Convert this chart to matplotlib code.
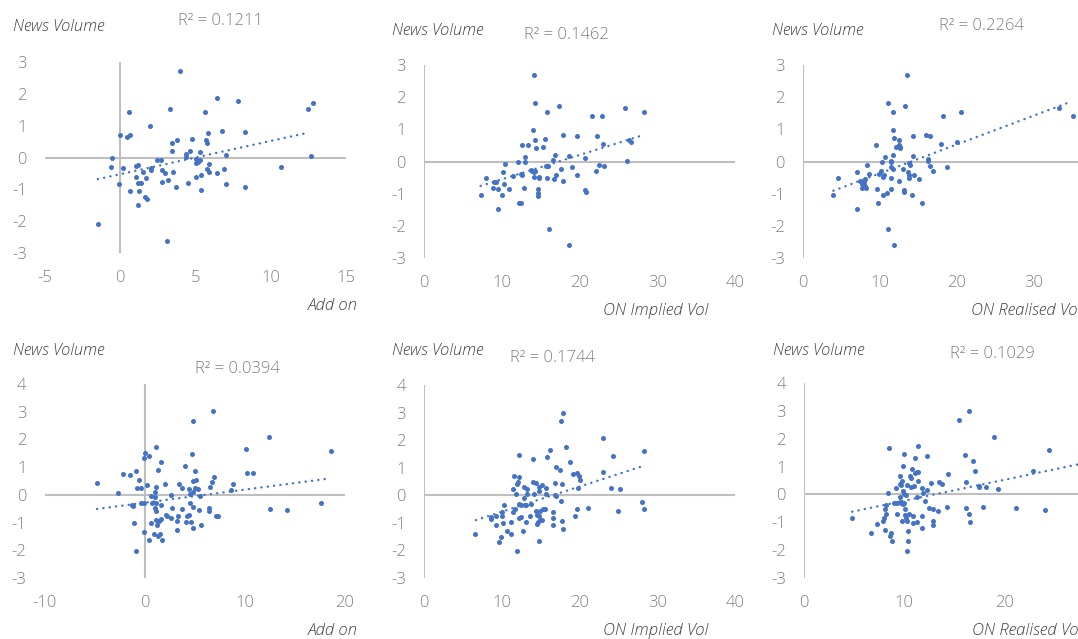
import matplotlib

matplotlib.use("Agg")

import matplotlib.pyplot as plt
import numpy as np

W, H = 1078, 639

BLUE = "#4472C4"
AXIS_GREY = "#BFBFBF"
TICK_GREY = "#808080"
TITLE_GREY = "#404040"

# ---- data (x, news volume) ----
addon_top = [
    (3.96, 2.73), (6.42, 1.88), (7.82, 1.77), (3.30, 1.53), (5.63, 1.44), (0.59, 1.44),
    (12.5, 1.53), (12.8, 1.71), (1.96, 0.99), (6.77, 0.82), (8.29, 0.79), (5.82, 0.78),
    (-0.04, 0.72), (0.44, 0.65), (0.66, 0.72), (4.75, 0.58), (3.74, 0.54), (5.67, 0.54),
    (5.76, 0.44), (3.41, 0.45), (3.41, 0.21), (4.62, 0.21), (5.27, 0.18), (4.40, 0.10),
    (4.40, 0.02), (7.05, 0.07), (12.66, 0.04), (-0.55, 0.0), (5.05, -0.06), (2.46, -0.09),
    (2.70, -0.09), (5.27, -0.09), (5.05, -0.16), (5.18, -0.13), (5.91, -0.19), (-0.64, -0.29),
    (0.15, -0.33), (1.03, -0.26), (1.19, -0.23), (2.04, -0.33), (2.04, -0.39), (2.75, -0.40),
    (2.95, -0.50), (3.52, -0.47), (5.76, -0.37), (5.91, -0.47), (6.42, -0.50), (6.90, -0.37),
    (10.66, -0.29), (1.54, -0.47), (1.05, -0.61), (1.71, -0.64), (5.38, -0.54), (5.05, -0.61),
    (3.14, -0.71), (2.75, -0.77), (1.16, -0.80), (1.38, -0.80), (-0.07, -0.84), (4.53, -0.80),
    (7.05, -0.84), (3.69, -0.94), (8.29, -0.94), (5.34, -1.01), (0.66, -1.04), (1.23, -1.04),
    (1.65, -1.25), (1.76, -1.29), (1.16, -1.48), (-1.49, -2.10), (3.10, -2.61),
]

implied_top = [
    (14.09, 2.69), (14.26, 1.83), (17.30, 1.73), (15.80, 1.53), (25.87, 1.67), (28.35, 1.53),
    (21.67, 1.43), (22.91, 1.40), (14.05, 0.99), (17.86, 0.81), (19.74, 0.78), (22.23, 0.78),
    (14.26, 0.68), (15.55, 0.71), (26.42, 0.66), (26.60, 0.60), (12.59, 0.51), (13.40, 0.51),
    (22.96, 0.54), (14.39, 0.41), (15.33, 0.45), (12.98, 0.14), (12.98, 0.0), (12.03, 0.0),
    (16.87, 0.21), (16.61, 0.06), (18.59, 0.17), (20.66, 0.10), (18.98, -0.17), (22.49, -0.10),
    (23.09, -0.14), (26.12, 0.03), (10.36, -0.09), (15.72, -0.14), (15.89, -0.14), (17.67, -0.24),
    (13.75, -0.27), (13.92, -0.28), (14.09, -0.34), (14.22, -0.30), (10.20, -0.34), (11.39, -0.44),
    (12.42, -0.39), (12.63, -0.41), (14.18, -0.47), (14.77, -0.47), (14.73, -0.51), (15.80, -0.51),
    (17.00, -0.41), (19.70, -0.41), (16.66, -0.54), (7.97, -0.51), (17.90, -0.61), (22.11, -0.30),
    (10.24, -0.71), (8.99, -0.65), (9.29, -0.65), (8.90, -0.82), (9.55, -0.85), (10.92, -0.85),
    (12.85, -0.82), (14.65, -0.85), (20.68, -0.89), (20.86, -0.96), (14.69, -0.98), (14.69, -1.06),
    (7.28, -1.05), (10.06, -1.05), (12.16, -1.29), (12.51, -1.29), (9.51, -1.49), (16.06, -2.10),
    (18.59, -2.60),
]

realised_top = [
    (13.61, 2.69), (11.09, 1.83), (13.35, 1.73), (11.74, 1.53), (20.57, 1.53), (18.30, 1.40),
    (33.39, 1.67), (35.22, 1.43), (11.74, 0.99), (14.30, 0.78), (16.00, 0.81), (16.61, 0.78),
    (11.91, 0.72), (12.48, 0.68), (9.48, 0.51), (18.00, 0.54), (20.13, 0.60), (12.17, 0.45),
    (12.52, 0.51), (12.70, 0.45), (12.65, 0.41), (10.65, 0.14), (11.78, 0.21), (14.30, 0.18),
    (10.35, 0.0), (11.48, 0.03), (11.48, -0.03), (8.35, -0.10), (13.96, -0.10), (13.83, -0.04),
    (16.35, 0.08), (16.30, 0.01), (16.57, -0.14), (18.74, -0.17), (17.00, -0.30), (11.48, -0.17),
    (11.74, -0.24), (10.22, -0.28), (13.04, -0.24), (13.74, -0.34), (13.78, -0.41), (14.48, -0.41),
    (7.09, -0.34), (8.61, -0.39), (9.91, -0.39), (10.43, -0.47), (10.61, -0.43), (4.52, -0.51),
    (11.43, -0.51), (13.87, -0.51), (15.17, -0.54), (8.13, -0.54), (12.48, -0.61), (7.39, -0.61),
    (7.74, -0.69), (7.96, -0.65), (8.04, -0.76), (7.70, -0.83), (8.17, -0.82), (9.61, -0.85),
    (11.48, -0.85), (13.13, -0.89), (13.17, -0.95), (10.91, -0.99), (10.48, -1.05), (3.96, -1.05),
    (14.17, -1.05), (9.78, -1.29), (15.57, -1.29), (7.04, -1.49), (11.09, -2.10), (11.91, -2.60),
]

addon_bottom = [
    (6.85, 3.03), (4.79, 2.68), (12.37, 2.09), (10.11, 1.65), (18.56, 1.58), (1.10, 1.72),
    (0.0, 1.50), (0.43, 1.42), (-0.07, 1.34), (4.69, 1.46), (1.66, 1.18), (4.02, 1.03),
    (-0.86, 0.87), (1.33, 0.90), (5.02, 0.87), (-2.16, 0.76), (-1.50, 0.71), (10.24, 0.78),
    (10.77, 0.78), (6.95, 0.64), (-0.53, 0.52), (4.79, 0.51), (5.12, 0.54), (6.72, 0.47),
    (-4.76, 0.43), (0.20, 0.36), (2.06, 0.40), (3.46, 0.40), (8.81, 0.40), (1.10, 0.28),
    (-0.80, 0.24), (-0.40, 0.24), (3.72, 0.24), (4.39, 0.21), (5.02, 0.24), (5.35, 0.21),
    (6.48, 0.28), (8.65, 0.16), (-2.69, 0.07), (1.00, 0.12), (4.79, 0.10), (2.63, 0.0),
    (0.60, -0.04), (4.52, 0.02), (5.52, -0.04), (1.00, -0.07), (-0.37, -0.28), (-0.03, -0.28),
    (0.73, -0.28), (-1.30, -0.36), (-1.20, -0.40), (1.10, -0.31), (1.66, -0.35), (4.52, -0.28),
    (4.86, -0.43), (17.59, -0.28), (1.03, -0.48), (1.10, -0.59), (2.73, -0.46), (5.45, -0.55),
    (6.42, -0.48), (6.42, -0.59), (3.69, -0.52), (12.50, -0.51), (14.23, -0.55), (2.13, -0.71),
    (2.19, -0.76), (3.29, -0.78), (2.59, -0.82), (1.60, -0.86), (4.39, -0.71), (4.26, -0.78),
    (7.08, -0.78), (7.35, -0.75), (1.13, -0.92), (1.46, -0.94), (3.19, -0.94), (4.12, -0.99),
    (4.66, -0.98), (1.26, -1.10), (-1.06, -1.01), (0.63, -1.01), (5.65, -1.10), (4.79, -1.18),
    (3.26, -1.25), (-0.03, -1.33), (0.90, -1.41), (1.53, -1.40), (1.30, -1.48), (0.43, -1.64),
    (1.73, -1.64), (-0.86, -2.03),
]

implied_bottom = [
    (17.82, 3.00), (17.56, 2.69), (23.00, 2.06), (18.24, 1.75), (16.15, 1.66), (28.27, 1.59),
    (12.25, 1.47), (15.85, 1.40), (14.05, 1.31), (24.37, 1.44), (18.80, 1.19), (17.00, 1.04),
    (17.43, 0.92), (22.96, 0.84), (19.10, 0.76), (19.66, 0.81), (19.91, 0.71), (20.04, 0.57),
    (11.52, 0.69), (12.25, 0.65), (12.08, 0.49), (11.95, 0.41), (13.96, 0.49), (14.35, 0.45),
    (16.83, 0.45), (17.69, 0.41), (15.20, 0.36), (14.73, 0.31), (12.89, 0.31), (13.23, 0.24),
    (11.44, 0.22), (11.78, 0.05), (15.67, 0.27), (19.83, 0.27), (24.03, 0.25), (25.22, 0.22),
    (13.23, 0.06), (14.18, 0.06), (14.77, 0.16), (15.72, 0.06), (16.79, 0.0), (17.00, -0.01),
    (12.81, -0.10), (12.21, -0.30), (12.42, -0.34), (13.02, -0.36), (13.15, -0.34), (13.79, -0.30),
    (17.56, -0.22), (10.28, -0.37), (11.69, -0.49), (14.39, -0.57), (15.25, -0.49), (15.55, -0.49),
    (14.90, -0.57), (19.66, -0.48), (21.03, -0.45), (24.97, -0.57), (28.01, -0.25), (28.27, -0.49),
    (16.62, -0.62), (10.06, -0.62), (11.43, -0.62), (8.65, -0.78), (6.51, -1.39), (9.25, -0.74),
    (8.57, -0.86), (10.06, -0.74), (12.21, -0.81), (12.47, -0.78), (13.66, -0.76), (14.52, -0.72),
    (14.73, -0.76), (16.58, -0.82), (17.69, -0.92), (19.36, -0.74), (9.25, -1.07), (10.15, -1.00),
    (11.18, -0.97), (13.06, -0.97), (14.47, -1.05), (14.64, -0.97), (14.86, -0.89), (15.12, -0.90),
    (16.58, -1.09), (17.82, -1.21), (10.71, -1.28), (11.14, -1.39), (12.68, -1.31), (9.85, -1.51),
    (9.68, -1.68), (14.73, -1.66), (11.95, -2.01),
]

realised_bottom = [
    (16.48, 2.99), (15.51, 2.68), (19.00, 2.05), (24.46, 1.58), (8.51, 1.66), (11.39, 1.74),
    (12.26, 1.39), (9.95, 1.46), (11.12, 1.32), (16.05, 1.43), (16.92, 1.19), (9.85, 1.03),
    (10.82, 0.91), (17.05, 0.84), (11.29, 0.80), (11.06, 0.77), (11.39, 0.80), (22.85, 0.84),
    (14.41, 0.72), (9.58, 0.65), (10.62, 0.67), (10.69, 0.58), (9.78, 0.49), (9.61, 0.38),
    (9.68, 0.34), (11.36, 0.48), (12.66, 0.41), (13.50, 0.44), (13.84, 0.37), (16.15, 0.44),
    (17.45, 0.30), (17.45, 0.26), (18.16, 0.26), (19.43, 0.20), (10.32, 0.34), (10.69, 0.28),
    (11.02, 0.31), (11.76, 0.24), (9.18, 0.22), (8.44, 0.06), (9.85, 0.12), (9.98, 0.02),
    (10.22, -0.01), (11.93, 0.05), (12.26, 0.17), (9.55, -0.11), (11.26, -0.10), (12.13, -0.22),
    (9.01, -0.30), (9.28, -0.31), (9.72, -0.32), (9.85, -0.36), (9.98, -0.31), (9.58, -0.28),
    (8.17, -0.37), (12.50, -0.48), (12.86, -0.52), (13.37, -0.60), (14.31, -0.44), (16.15, -0.48),
    (17.89, -0.44), (21.21, -0.48), (24.05, -0.56), (10.05, -0.53), (8.10, -0.53), (8.21, -0.71),
    (9.28, -0.72), (10.08, -0.73), (10.52, -0.71), (10.85, -0.77), (11.83, -0.79), (16.48, -0.71),
    (8.00, -0.84), (10.22, -0.84), (9.78, -0.94), (7.94, -0.96), (10.25, -0.94), (10.85, -1.03),
    (11.26, -1.00), (12.86, -0.94), (12.86, -1.08), (16.58, -1.00), (7.34, -1.07), (11.83, -1.19),
    (4.82, -0.85), (8.14, -1.26), (10.42, -1.30), (6.67, -1.38), (8.74, -1.38), (8.61, -1.50),
    (8.84, -1.66), (10.39, -1.66), (10.28, -2.02),
]

# linear trendlines as drawn in the reference: (slope, intercept, x_start, x_end)
trend_addon_top = (0.1044, -0.524, -1.49, 12.5)
trend_implied_top = (0.0756, -1.310, 7.28, 28.05)
trend_realised_top = (0.0895, -1.264, 3.96, 35.0)
trend_addon_bottom = (0.0474, -0.284, -4.76, 18.02)
trend_implied_bottom = (0.0912, -1.509, 6.68, 28.18)
trend_realised_bottom = (0.0752, -0.982, 4.82, 30.0)

r2_labels = ["R² = 0.1211", "R² = 0.1462", "R² = 0.2264",
             "R² = 0.0394", "R² = 0.1744", "R² = 0.1029"]
x_labels = ["Add on", "ON Implied Vol", "ON Realised Vol",
            "Add on", "ON Implied Vol", "ON Realised Vol"]

x_ticks_addon_top = [-5, 0, 5, 10, 15]
x_ticks_vol = [0, 10, 20, 30, 40]
x_ticks_addon_bottom = [-10, 0, 10, 20]
x_ticks_realised_bottom = [0, 10, 20, 30]
y_ticks_top = [-3, -2, -1, 0, 1, 2, 3]
y_ticks_bottom = [-3, -2, -1, 0, 1, 2, 3, 4]

plt.rcParams["font.family"] = ["Open Sans", "DejaVu Sans"]
plt.rcParams["font.weight"] = "light"
plt.rcParams["axes.unicode_minus"] = False


def fx(px):
    return px / W


def fy(py):
    return 1 - py / H


def make_panel(fig, box, pts, trend, xticks, yticks):
    left, right, top, bottom = box
    ax = fig.add_axes([fx(left), fy(bottom), (right - left) / W, (bottom - top) / H])
    ax.set_xlim(xticks[0], xticks[-1])
    ax.set_ylim(yticks[0], yticks[-1])
    for s in ax.spines.values():
        s.set_visible(False)
    ax.set_xticks(xticks)
    ax.set_yticks(yticks)
    ax.tick_params(length=0, labelsize=12, labelcolor=TICK_GREY, pad=13)
    ax.tick_params(axis="x", pad=12)
    ax.axhline(0, color=AXIS_GREY, lw=1.5, zorder=1)
    ax.axvline(0, color=AXIS_GREY, lw=1.5, zorder=1)
    pts = np.array(pts)
    ax.scatter(pts[:, 0], pts[:, 1], s=13, color=BLUE, linewidths=0, zorder=3,
               clip_on=False)
    slope, intercept, x0, x1 = trend
    tx = np.array([x0, x1])
    ax.plot(tx, slope * tx + intercept, color=BLUE, lw=1.7,
            linestyle=(0, (0.1, 2.6)), dash_capstyle="round", zorder=2)
    ax.patch.set_alpha(0)
    return ax


fig = plt.figure(figsize=(W / 100, H / 100), dpi=100)
fig.patch.set_facecolor("white")

panels = [
    ((45, 346, 62, 253), addon_top, trend_addon_top, x_ticks_addon_top, y_ticks_top),
    ((424, 735, 65, 258), implied_top, trend_implied_top, x_ticks_vol, y_ticks_top),
    ((803, 1110, 65, 258), realised_top, trend_realised_top, x_ticks_vol, y_ticks_top),
    ((44.5, 345, 384, 578), addon_bottom, trend_addon_bottom, x_ticks_addon_bottom, y_ticks_bottom),
    ((424, 735, 385, 578), implied_bottom, trend_implied_bottom, x_ticks_vol, y_ticks_bottom),
    ((804, 1104, 383, 578), realised_bottom, trend_realised_bottom, x_ticks_realised_bottom, y_ticks_bottom),
]
for box, pts, trend, xt, yt in panels:
    make_panel(fig, box, pts, trend, xt, yt)

# "News Volume" titles (left, centre y)
title_pos = [(13, 27), (392, 31), (772, 31), (13, 351), (392, 351), (773, 351)]
for x, y in title_pos:
    fig.text(fx(x), fy(y), "News Volume", fontsize=11.8, style="italic",
             color=TITLE_GREY, ha="left", va="center")

# R² labels (centre)
r2_pos = [(220, 21), (566, 35), (981, 26), (237, 369), (552, 358), (992, 354)]
for (x, y), lab in zip(r2_pos, r2_labels):
    fig.text(fx(x), fy(y), lab, fontsize=12, color=TICK_GREY, ha="center", va="center")

# x-axis titles
xlab_pos = [(358, 306, "right"), (708, 311, "right"), (971, 311, "left"),
            (358, 631, "right"), (708, 631, "right"), (972, 631, "left")]
for (x, y, ha), lab in zip(xlab_pos, x_labels):
    fig.text(fx(x), fy(y), lab, fontsize=12, style="italic", color=TITLE_GREY,
             ha=ha, va="center")

fig.savefig("out.png", dpi=100, facecolor="white")
